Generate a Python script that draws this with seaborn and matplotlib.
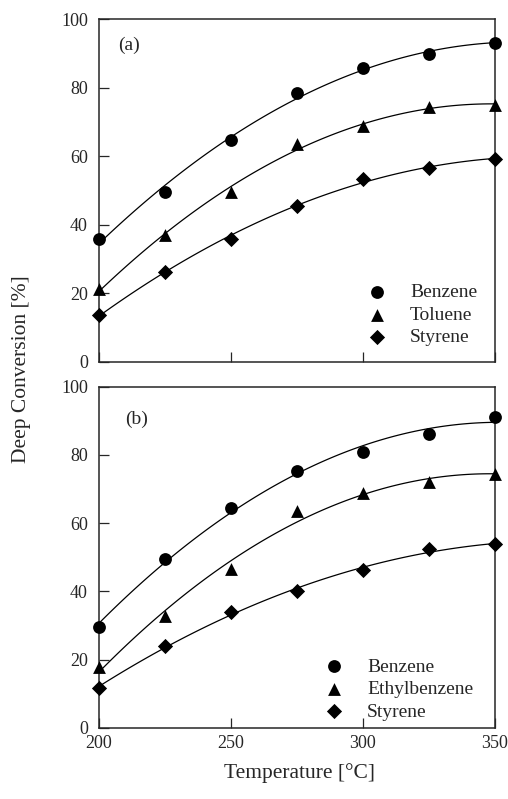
import numpy as np
import pandas as pd
import seaborn as sns
import matplotlib.pyplot as plt

# Temperatures (deg C)
temp = [200, 225, 250, 275, 300, 325, 350]

# Panel (a)
a_benzene = [35.9, 49.5, 64.7, 78.6, 85.9, 89.8, 93.1]
a_toluene = [21.2, 37.0, 49.6, 63.7, 68.9, 74.4, 74.9]
a_styrene = [13.7, 26.3, 35.9, 45.6, 53.5, 56.7, 59.1]

# Panel (b)
b_benzene = [29.5, 49.4, 64.5, 75.3, 80.8, 86.2, 91.1]
b_ethylbenzene = [17.8, 32.7, 46.6, 63.5, 68.9, 72.0, 74.5]
b_styrene = [11.7, 24.1, 33.9, 40.1, 46.2, 52.5, 53.8]

sns.set_style("ticks")
plt.rcParams["font.family"] = ["Liberation Serif", "DejaVu Serif"]

fig = plt.figure(figsize=(5.08, 7.99), dpi=100)
ax_a = fig.add_axes([0.195, 0.547, 0.779, 0.429])
ax_b = fig.add_axes([0.195, 0.089, 0.779, 0.427])

panels = [
    (ax_a, "(a)", (0.047, 0.925), (0.995, 0.0),
     [("Benzene", a_benzene, "o"), ("Toluene", a_toluene, "^"), ("Styrene", a_styrene, "D")]),
    (ax_b, "(b)", (0.067, 0.905), (0.985, -0.024),
     [("Benzene", b_benzene, "o"), ("Ethylbenzene", b_ethylbenzene, "^"), ("Styrene", b_styrene, "D")]),
]

for ax, tag, tagpos, legpos, series in panels:
    for name, vals, mk in series:
        df = pd.DataFrame({"T": temp, "conv": vals})
        size = 85 if mk != "D" else 60
        sns.regplot(data=df, x="T", y="conv", order=2, ci=None, ax=ax,
                    marker=mk, color="black", label=name, truncate=True,
                    scatter_kws={"s": size, "clip_on": False, "zorder": 3,
                                 "linewidths": 0, "alpha": 1},
                    line_kws={"lw": 0.9})
    ax.set_xlim(200, 350)
    ax.set_ylim(0, 100)
    ax.set_xticks([200, 250, 300, 350])
    ax.set_yticks([0, 20, 40, 60, 80, 100])
    ax.tick_params(direction="in", length=7, width=0.9, labelsize=13)
    ax.tick_params(axis="y", pad=8)
    ax.tick_params(axis="x", pad=5)
    ax.set_xlabel("")
    ax.set_ylabel("")
    for sp in ax.spines.values():
        sp.set_linewidth(1.1)
    ax.text(tagpos[0], tagpos[1], tag, transform=ax.transAxes, fontsize=14, va="center")
    ax.legend(loc="lower right", bbox_to_anchor=legpos, frameon=False, fontsize=14,
              handletextpad=0.7, labelspacing=0.25, borderaxespad=0.4)

ax_a.tick_params(labelbottom=False)
fig.text(0.043, 0.538, "Deep Conversion [%]", rotation=90, fontsize=15.5, va="center", ha="center")
fig.text(0.59, 0.033, "Temperature [\u00b0C]", fontsize=15.5, ha="center", va="center")

fig.savefig("out.png", dpi=100)
